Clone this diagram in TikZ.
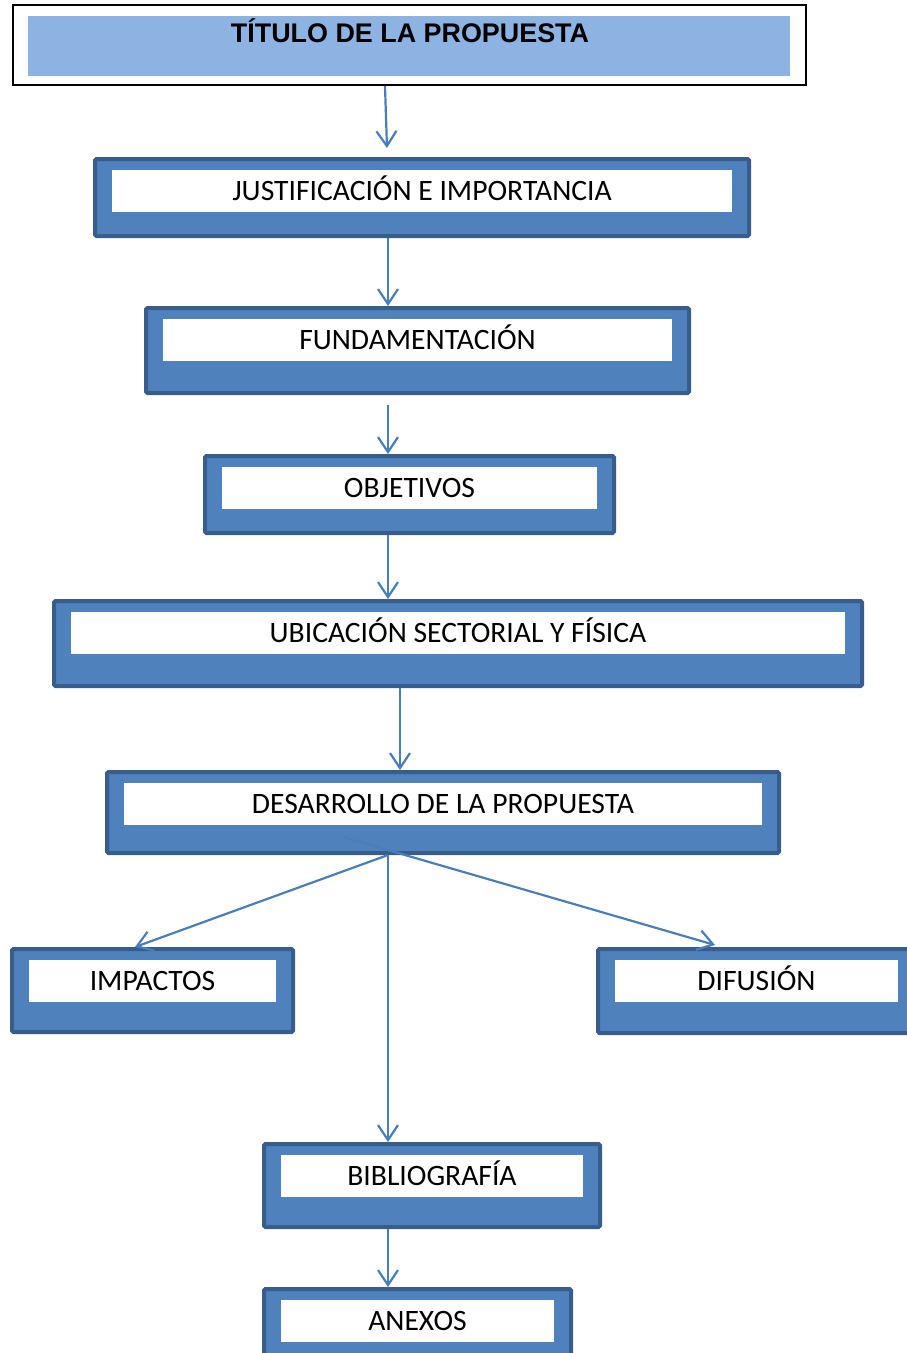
\documentclass[tikz,border=0pt]{standalone}
\usepackage{fontspec}
\setmainfont{Carlito}
\newfontfamily\titlefont{Liberation Sans}
\usepackage{xcolor}
\usepackage{tikz}
\usetikzlibrary{arrows.meta}
\usetikzlibrary{positioning}

\definecolor{boxfill}{HTML}{4F81BD}
\definecolor{boxline}{HTML}{385D8A}
\definecolor{titlefill}{HTML}{8DB3E2}
\definecolor{arrowcol}{HTML}{4A7EBB}

\begin{document}
\begin{tikzpicture}[x=1pt,y=-1pt,node distance=13pt]
  \tikzstyle{boxout}=[draw=boxline, line width=4pt, fill=boxfill, rounded corners=1.5pt, inner sep=0pt]
  \tikzstyle{boxin}=[fill=white, inner sep=0pt, outer sep=0pt, minimum height=42pt,
                     text height=19pt, text depth=0pt, font=\fontsize{29.6}{32}\selectfont]
  \tikzstyle{arr}=[draw=arrowcol, line width=2.2pt, -{Straight Barb[length=15pt,width=20pt]}]
  \useasboundingbox (0,0) rectangle (907,1353);
  \clip (0,0) rectangle (907,1353);

  % title
  \node[draw=black, line width=1.8pt, inner sep=0pt, minimum width=793.5, minimum height=80.5] (title) at (409.5,45) {};
  \node[fill=titlefill, inner sep=0pt, minimum width=762, minimum height=60] (titlebg) at (409,46) {};
  \node[inner sep=0pt, text height=19pt, text depth=0pt, font=\titlefont\bfseries\fontsize{26.9}{30}\selectfont] (titletext) at (410,33) {TÍTULO DE LA PROPUESTA};

  % boxes
  \foreach \nm/\cx/\cy/\w/\h/\txt in {
      just/422/197.5/658/81/JUSTIFICACIÓN E IMPORTANCIA,
      fund/417.5/350.5/547/89/FUNDAMENTACIÓN,
      obj/409.5/494.5/413/81/OBJETIVOS,
      ubic/458/643.5/812/89/UBICACIÓN SECTORIAL Y FÍSICA,
      des/443/812.5/676/85/DESARROLLO DE LA PROPUESTA,
      imp/152.5/990.5/285/87/IMPACTOS,
      dif/756.5/991/321/88/DIFUSIÓN,
      bib/432/1185.5/340/87/BIBLIOGRAFÍA,
      anx/417.5/1330.5/311/87/ANEXOS}{
    \node[boxout, minimum width=\w-4, minimum height=\h-4] (\nm) at (\cx,\cy) {};
    \node[boxin, minimum width=\w-38, below=13pt of \nm.north] (\nm-t) {\txt};
  }

  % arrows
  \coordinate (axis) at (388,0);
  \coordinate (axisb) at (400,0);
  \coordinate (fundlow) at ([yshift=-10pt]fund.south);
  \draw[arr] ([xshift=-24.5pt]title.south) -- ([xshift=-35pt,yshift=9pt]just.north);
  \draw[arr] (just.south -| axis) -- (fund.north -| axis);
  \draw[arr] (fundlow -| axis) -- (obj.north -| axis);
  \draw[arr] (obj.south -| axis) -- (ubic.north -| axis);
  \draw[arr] (ubic.south -| axisb) -- (des.north -| axisb);
  \draw[arr] (des.south -| axis) -- ([xshift=-17.5pt]imp.north);
  \draw[arr] ([xshift=-100pt,yshift=18pt]des.south) -- ([xshift=-41.5pt,yshift=2pt]dif.north);
  \draw[arr] (des.south -| axis) -- (bib.north -| axis);
  \draw[arr] (bib.south -| axis) -- (anx.north -| axis);
\end{tikzpicture}
\end{document}
